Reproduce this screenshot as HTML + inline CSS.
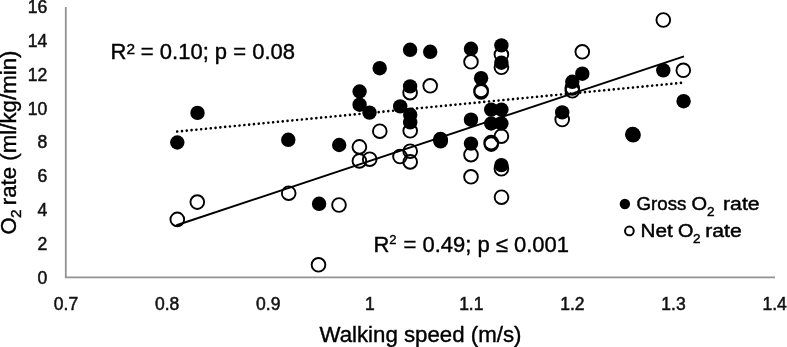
<!DOCTYPE html>
<html><head><meta charset="utf-8"><title>chart</title>
<style>
html,body{margin:0;padding:0;background:#fff;}
body{width:787px;height:347px;overflow:hidden;}
svg{display:block;filter:grayscale(1);font-family:"Liberation Sans",sans-serif;}
</style></head><body>
<svg width="787" height="347" viewBox="0 0 787 347">
<rect width="787" height="347" fill="#fff"/>
<g stroke="#939393" stroke-width="1.8" fill="none">
<line x1="65.8" y1="6.9" x2="65.8" y2="278"/>
<line x1="65.1" y1="277.3" x2="775" y2="277.3"/>
</g>

<g font-size="17.6" fill="#111" stroke="#111" stroke-width="0.5" text-anchor="end">
<text x="47.3" y="283.8">0</text>
<text x="47.3" y="250.0">2</text>
<text x="47.3" y="216.1">4</text>
<text x="47.3" y="182.2">6</text>
<text x="47.3" y="148.4">8</text>
<text x="47.3" y="114.6">10</text>
<text x="47.3" y="80.7">12</text>
<text x="47.3" y="46.8">14</text>
<text x="47.3" y="13.0">16</text>
</g>
<g font-size="17.5" fill="#111" stroke="#111" stroke-width="0.5" text-anchor="middle">
<text x="66.0" y="310.3">0.7</text>
<text x="167.1" y="310.3">0.8</text>
<text x="268.2" y="310.3">0.9</text>
<text x="369.8" y="310.3">1</text>
<text x="471.3" y="310.3">1.1</text>
<text x="572.4" y="310.3">1.2</text>
<text x="673.5" y="310.3">1.3</text>
<text x="774.6" y="310.3">1.4</text>
</g>
<g fill="none" stroke="#000" stroke-width="1.9">
<circle cx="177.3" cy="219.4" r="6.85"/>
<circle cx="197.3" cy="202.1" r="6.85"/>
<circle cx="288.7" cy="193.2" r="6.85"/>
<circle cx="318.5" cy="264.8" r="6.85"/>
<circle cx="339.0" cy="205.0" r="6.85"/>
<circle cx="359.4" cy="146.9" r="6.85"/>
<circle cx="359.4" cy="160.9" r="6.85"/>
<circle cx="369.7" cy="159.2" r="6.85"/>
<circle cx="379.8" cy="131.2" r="6.85"/>
<circle cx="400.0" cy="156.5" r="6.85"/>
<circle cx="410.1" cy="92.7" r="6.85"/>
<circle cx="410.2" cy="130.8" r="6.85"/>
<circle cx="410.2" cy="151.2" r="6.85"/>
<circle cx="410.2" cy="161.9" r="6.85"/>
<circle cx="430.2" cy="85.8" r="6.85"/>
<circle cx="471.0" cy="61.8" r="6.85"/>
<circle cx="471.0" cy="154.7" r="6.85"/>
<circle cx="471.0" cy="176.8" r="6.85"/>
<circle cx="481.1" cy="90.4" r="6.85"/>
<circle cx="481.1" cy="91.9" r="6.85"/>
<circle cx="491.2" cy="142.6" r="6.85"/>
<circle cx="491.3" cy="144.1" r="6.85"/>
<circle cx="501.4" cy="54.6" r="6.85"/>
<circle cx="501.4" cy="67.3" r="6.85"/>
<circle cx="501.4" cy="136.2" r="6.85"/>
<circle cx="501.4" cy="168.8" r="6.85"/>
<circle cx="501.5" cy="197.2" r="6.85"/>
<circle cx="562.2" cy="119.5" r="6.85"/>
<circle cx="572.3" cy="90.8" r="6.85"/>
<circle cx="572.3" cy="88.0" r="6.85"/>
<circle cx="582.3" cy="51.8" r="6.85"/>
<circle cx="663.3" cy="20.0" r="6.85"/>
<circle cx="683.3" cy="70.3" r="6.85"/>
</g>
<g fill="#000">
<circle cx="177.3" cy="142.5" r="7.2"/>
<circle cx="197.5" cy="112.9" r="7.2"/>
<circle cx="288.3" cy="139.8" r="7.2"/>
<circle cx="339.2" cy="145.0" r="7.2"/>
<circle cx="319.1" cy="203.8" r="7.2"/>
<circle cx="359.6" cy="91.5" r="7.2"/>
<circle cx="359.6" cy="104.7" r="7.2"/>
<circle cx="369.5" cy="112.6" r="7.2"/>
<circle cx="379.7" cy="68.2" r="7.2"/>
<circle cx="400.2" cy="106.4" r="7.2"/>
<circle cx="410.1" cy="49.8" r="7.2"/>
<circle cx="410.1" cy="86.4" r="7.2"/>
<circle cx="410.2" cy="114.8" r="7.2"/>
<circle cx="410.2" cy="122.4" r="7.2"/>
<circle cx="430.2" cy="51.8" r="7.2"/>
<circle cx="440.5" cy="139.3" r="7.5"/>
<circle cx="440.6" cy="140.9" r="7.5"/>
<circle cx="471.0" cy="48.8" r="7.2"/>
<circle cx="471.0" cy="119.7" r="7.2"/>
<circle cx="471.0" cy="143.6" r="7.2"/>
<circle cx="481.1" cy="78.2" r="7.2"/>
<circle cx="491.2" cy="109.6" r="7.2"/>
<circle cx="491.2" cy="123.5" r="7.2"/>
<circle cx="501.4" cy="45.4" r="7.2"/>
<circle cx="501.4" cy="62.7" r="7.2"/>
<circle cx="501.4" cy="109.6" r="7.2"/>
<circle cx="501.4" cy="123.5" r="7.2"/>
<circle cx="501.4" cy="165.1" r="7.2"/>
<circle cx="562.2" cy="112.4" r="7.2"/>
<circle cx="572.3" cy="81.8" r="7.2"/>
<circle cx="582.3" cy="73.7" r="7.2"/>
<circle cx="632.6" cy="134.3" r="7.6"/>
<circle cx="633.2" cy="134.9" r="7.6"/>
<circle cx="663.3" cy="70.3" r="7.2"/>
<circle cx="683.6" cy="101.2" r="7.2"/>
</g>
<line x1="176.4" y1="225.3" x2="684" y2="56.4" stroke="#000" stroke-width="2"/>
<line x1="177.2" y1="131.55" x2="682.5" y2="82.75" stroke="#000" stroke-width="2.6" stroke-linecap="round" stroke-dasharray="0.01 4.81"/>
<g font-size="22" fill="#000" stroke="#000" stroke-width="0.4">
<text x="110.5" y="59.3">R<tspan font-size="15.4" dy="-5.8">2</tspan><tspan dy="5.8" dx="-0.2"> = 0.10; p = 0.08</tspan></text>
<text x="373.4" y="251.9">R<tspan font-size="13" dy="-8.1">2</tspan><tspan dy="8.1" dx="0.85"> = 0.49; p ≤ 0.001</tspan></text>
<text x="319.5" y="342.2" font-size="22.25">Walking speed (m/s)</text>
<text transform="translate(16.2,234.5) rotate(-90)">O</text>
<text transform="translate(21.4,218.1) rotate(-90)" font-size="15.5">2</text>
<text transform="translate(16.2,205.2) rotate(-90)" font-size="22.27">rate (ml/kg/min)</text>
</g>
<circle cx="624.9" cy="203.95" r="5.2" fill="#000"/>
<circle cx="629.4" cy="230.95" r="4.35" fill="none" stroke="#000" stroke-width="2"/>
<g font-size="18.3" fill="#000" stroke="#000" stroke-width="0.45">
<text x="636.6" y="210.3" textLength="49.8" lengthAdjust="spacingAndGlyphs">Gross</text>
<text x="691.5" y="210.3" textLength="15.6" lengthAdjust="spacingAndGlyphs">O</text>
<text x="706.9" y="215.7" font-size="13.5">2</text>
<text x="723.0" y="210.3" textLength="36.6" lengthAdjust="spacingAndGlyphs">rate</text>
<text x="640.6" y="236.75" textLength="32.2" lengthAdjust="spacingAndGlyphs">Net</text>
<text x="677.9" y="236.75" textLength="15.4" lengthAdjust="spacingAndGlyphs">O</text>
<text x="692.9" y="242.5" font-size="13.5">2</text>
<text x="705.3" y="236.75" textLength="36.5" lengthAdjust="spacingAndGlyphs">rate</text>
</g>
</svg>
</body></html>
